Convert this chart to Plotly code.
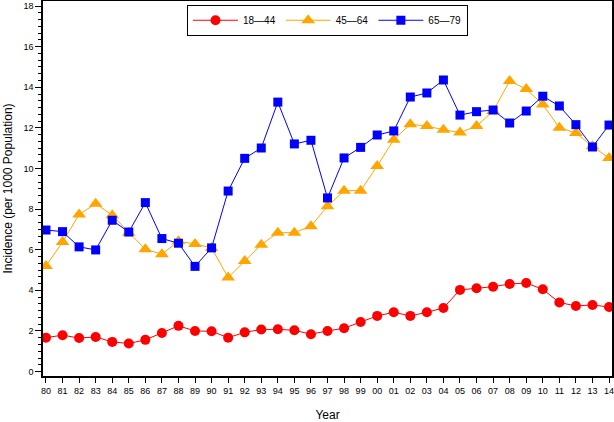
import plotly.graph_objects as go

years = ["80","81","82","83","84","85","86","87","88","89","90","91","92","93","94","95","96","97",
         "98","99","00","01","02","03","04","05","06","07","08","09","10","11","12","13","14"]
age_18_44 = [1.67,1.79,1.65,1.70,1.46,1.38,1.56,1.90,2.25,2.00,1.98,1.67,1.93,2.07,2.08,2.03,1.84,2.00,
             2.13,2.44,2.74,2.92,2.74,2.92,3.13,4.02,4.10,4.18,4.31,4.36,4.05,3.40,3.23,3.28,3.18]
age_45_64 = [5.20,6.38,7.73,8.27,7.70,6.84,6.02,5.78,6.42,6.28,6.09,4.63,5.45,6.25,6.84,6.84,7.16,8.14,
             8.91,8.91,10.12,11.42,12.18,12.09,11.91,11.77,12.09,12.83,14.31,13.91,13.15,12.01,11.75,11.09,10.52]
age_65_79 = [6.97,6.89,6.14,5.99,7.45,6.87,8.32,6.55,6.32,5.18,6.09,8.89,10.50,11.01,13.27,11.21,11.39,8.55,
             10.52,11.04,11.65,11.85,13.52,13.72,14.36,12.63,12.80,12.88,12.24,12.83,13.56,13.08,12.16,11.06,12.14]

xs = list(range(len(years)))
font = "Liberation Sans, Arial, sans-serif"

fig = go.Figure()
fig.add_trace(go.Scatter(x=xs, y=age_18_44, name="18\u201444", mode="lines+markers",
                         line=dict(color="#ff0000", width=1),
                         marker=dict(symbol="circle", size=10, color="#ff0000")))
fig.add_trace(go.Scatter(x=xs, y=age_45_64, name="45\u201464", mode="lines+markers",
                         line=dict(color="#ffa500", width=1),
                         marker=dict(symbol="triangle-up", size=12, color="#ffa500")))
fig.add_trace(go.Scatter(x=xs, y=age_65_79, name="65\u201479", mode="lines+markers",
                         line=dict(color="#0000ff", width=1),
                         marker=dict(symbol="square", size=9, color="#0000ff")))

fig.update_layout(
    width=614, height=422,
    margin=dict(l=43, r=2, t=1, b=46),
    paper_bgcolor="white", plot_bgcolor="white",
    font=dict(family=font, size=10, color="black"),
    legend=dict(orientation="h", x=0.5, xanchor="center", y=0.99, yanchor="top",
                bordercolor="black", borderwidth=1, bgcolor="white",
                font=dict(size=10), itemwidth=45),
    showlegend=True,
)
fig.update_xaxes(
    range=[-0.18, 34.18], tickmode="array", tickvals=xs, ticktext=years,
    showgrid=False, zeroline=False, showline=True, linecolor="black", linewidth=1.5,
    mirror=True, ticks="outside", ticklen=5, tickcolor="black", tickfont=dict(size=9),
    ticklabeloverflow="allow", automargin=False,
    title=dict(text="Year", font=dict(size=12), standoff=18),
)
fig.update_yaxes(
    range=[-0.22, 18.25], tickmode="linear", tick0=0, dtick=2,
    showgrid=False, zeroline=False, showline=True, linecolor="black", linewidth=1.5,
    mirror=True, ticks="outside", ticklen=6, tickcolor="black", tickfont=dict(size=9),
    minor=dict(ticks="outside", ticklen=3, dtick=2/6, tick0=0, tickcolor="black"),
    automargin=False,
    title=dict(text="Incidence (per 1000 Population)", font=dict(size=12), standoff=8),
)

fig.write_html("out.html", config={"displayModeBar": False},
               post_script="document.body.style.margin='0';document.body.style.overflow='hidden';")
